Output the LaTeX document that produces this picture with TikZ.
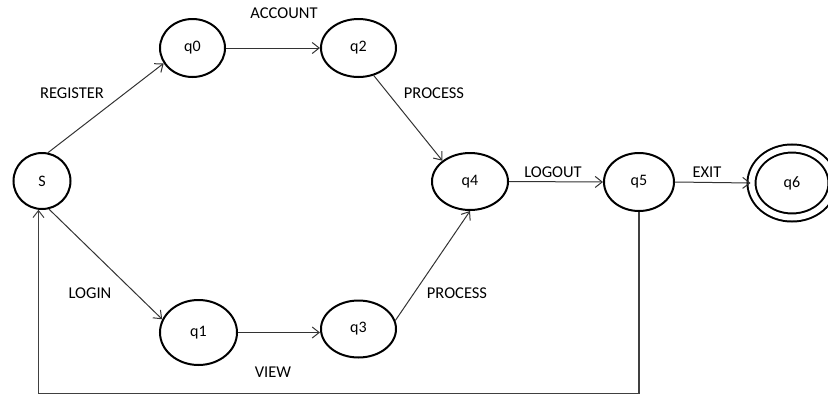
\documentclass[tikz,border=0pt]{standalone}
\usepackage{fontspec}
\setmainfont{Carlito}
\usetikzlibrary{shapes.geometric,arrows.meta}
\begin{document}
\begin{tikzpicture}[x=1pt,y=-1pt,
  state/.style={ellipse,draw,line width=2pt,inner sep=0pt,font=\fontsize{16}{19}\selectfont,text=black},
  lbl/.style={font=\fontsize{16.5}{19}\selectfont,text=black,inner sep=0pt},
  arr/.style={line width=1pt,draw=black!80,-{Straight Barb[length=7pt,width=11pt,line width=1pt]}}]
\useasboundingbox (0,0) rectangle (828,394);
% states
\node[state,minimum width=57pt,minimum height=56pt] (S) at (42,181) {S};
\node[state,minimum width=65pt,minimum height=58pt] (q0) at (192.5,48) {q0};
\node[state,minimum width=75pt,minimum height=58pt] (q2) at (358.5,48) {q2};
\node[state,minimum width=77pt,minimum height=65pt] (q1) at (198.5,332.5) {q1};
\node[state,minimum width=75pt,minimum height=57pt] (q3) at (358.5,329) {q3};
\node[state,minimum width=76pt,minimum height=57pt] (q4) at (470,181.5) {q4};
\node[state,minimum width=70pt,minimum height=58pt] (q5) at (639,182) {q5};
\node[state,double,double distance=6pt,minimum width=81pt,minimum height=69pt] (q6) at (792,183) {q6};
% transitions
\draw[arr] (S.78) -- (q0.208);
\draw[arr] (S.284) -- (q1.160);
\draw[arr] (q0.east) -- (q2.west);
\draw[arr] (q1.east) -- (q1.east -| q3.west);
\draw[arr] (q2.299) -- (q4.143);
\draw[arr] (q3.13) -- (q4.south);
\draw[arr] (q4.east) -- (q5.west);
\draw[arr] (q5.east) -- (q6.west);
\coordinate (lb) at (639,393.2);
\draw[line width=1.3pt,draw=black!75,-{Straight Barb[length=7pt,width=11pt,line width=1pt]}]
  (q5.south) -- (q5.south |- lb) -- (S.263 |- lb) -- (S.263);
% labels
\node[lbl] (lacc) at (284,13) {ACCOUNT};
\node[lbl] (lreg) at (72,93) {REGISTER};
\node[lbl] (lpr1) at (434,93) {PROCESS};
\node[lbl] (llog) at (553,172) {LOGOUT};
\node[lbl] (lexit) at (707,172) {EXIT};
\node[lbl] (lpr2) at (457,293) {PROCESS};
\node[lbl] (llogin) at (90,293) {LOGIN};
\node[lbl] (lview) at (273,372) {VIEW};
\end{tikzpicture}
\end{document}
